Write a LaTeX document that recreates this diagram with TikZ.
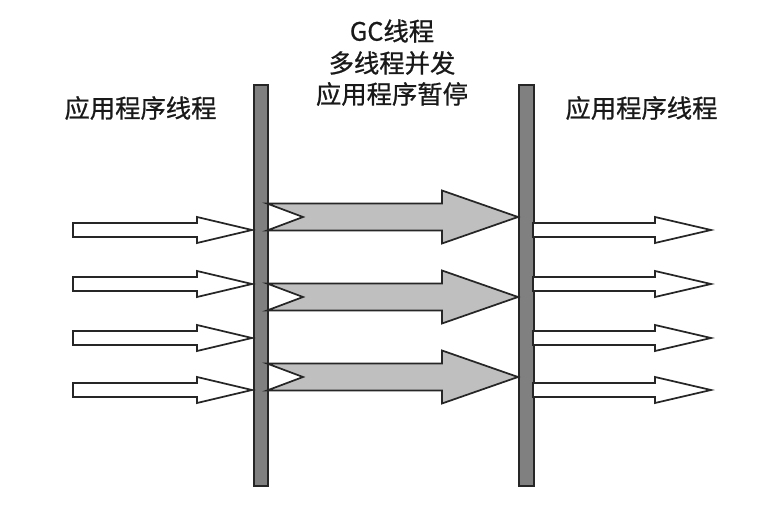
\documentclass[tikz,border=0pt]{standalone}
\usepackage{fontspec}
\setmainfont{Noto Sans CJK SC}[FakeBold=0.8]
\begin{document}
\begin{tikzpicture}[x=0.75pt,y=-0.75pt,
  barbox/.style={draw=black!85,line width=1.2pt,fill=black!50},
  whitearrow/.style={draw=black!85,line width=1.3pt,fill=white,line join=miter},
  grayarrow/.style={draw=black!85,line width=1.3pt,fill=black!25,line join=miter},
  label/.style={font=\fontsize{19pt}{23pt}\selectfont,text=black!90,inner sep=0pt,anchor=center}]
\useasboundingbox (0,0) rectangle (772,530);
% bars
\node[barbox,minimum width=14*0.75pt,minimum height=401*0.75pt,inner sep=0pt,anchor=north west] (lbar) at (253,84) {};
\node[barbox,minimum width=15*0.75pt,minimum height=401*0.75pt,inner sep=0pt,anchor=north west] (rbar) at (518,84) {};
% left white arrows
\foreach \c in {230,284,338,390}{
  \draw[whitearrow] (73,\c-7) -- (197,\c-7) -- (197,\c-13) -- (252,\c) -- (197,\c+13) -- (197,\c+7) -- (73,\c+7) -- cycle;
}
% right white arrows
\foreach \c in {230,284,338,390}{
  \draw[whitearrow] (533,\c-7) -- (655,\c-7) -- (655,\c-13) -- (711,\c) -- (655,\c+13) -- (655,\c+7) -- (533,\c+7) -- cycle;
}
% gray notched arrows
\foreach \c in {217,297,377}{
  \draw[grayarrow] (267,\c-13.5) -- (442,\c-13.5) -- (442,\c-26.5) -- (518,\c) -- (442,\c+26.5) -- (442,\c+13.5) -- (267,\c+13.5) -- (303,\c) -- cycle;
}
% labels
\node[label] (tl) at (140.5,108) {应用程序线程};
\node[label] (tr) at (641.5,108) {应用程序线程};
\node[label] (g1) at (392,31) {GC线程};
\node[label] (g2) at (392,63) {多线程并发};
\node[label] (g3) at (392,94) {应用程序暂停};
\end{tikzpicture}
\end{document}
